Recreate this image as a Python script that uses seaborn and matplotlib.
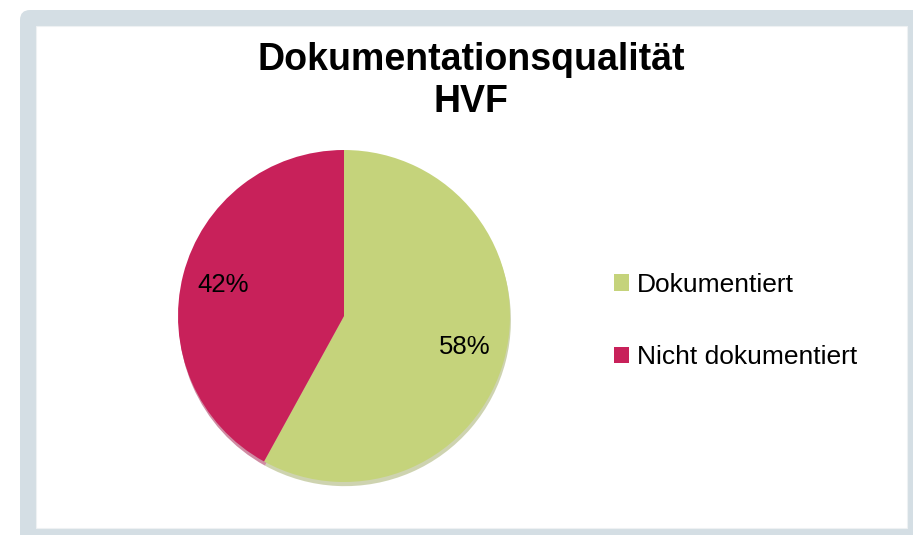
import seaborn as sns
import matplotlib.pyplot as plt
from matplotlib.patches import FancyBboxPatch, Rectangle

# Chart data
categories = ['Dokumentiert', 'Nicht dokumentiert']
shares = [58, 42]
colors = ['#c5d37b', '#c8215a']
title = 'Dokumentationsqualität\nHVF'

sns.set_theme(style='white')
plt.rcParams['font.family'] = ['Liberation Sans', 'DejaVu Sans']
plt.rcParams['text.color'] = 'black'

W, H = 913, 535
fig = plt.figure(figsize=(W / 100, H / 100), dpi=100)
fig.patch.set_facecolor('white')

# Gray frame with rounded top-left corner, white plot area inside
frame = FancyBboxPatch((20 / W, -20 / H), (W + 20) / W, (H + 10) / H,
                       boxstyle='round,pad=0,rounding_size=0.011',
                       transform=fig.transFigure, facecolor='#d4dee4',
                       edgecolor='none', mutation_aspect=W / H, zorder=0)
fig.patches.append(frame)
inner = Rectangle((36 / W, (H - 528) / H), (907 - 36) / W, (528 - 26) / H,
                  transform=fig.transFigure, facecolor='white',
                  edgecolor='#eef1f3', linewidth=0.8, zorder=1)
fig.patches.append(inner)

# Pie axes: center (344, 316) px, radius 166 px
cx, cy, r = 344, 316, 166
ax = fig.add_axes([(cx - r) / W, (H - cy - r) / H, 2 * r / W, 2 * r / H])
ax.set_zorder(2)
wedges, texts, autotexts = ax.pie(
    shares, colors=colors, startangle=90, counterclock=False,
    autopct='%1.0f%%', pctdistance=0.75,
    shadow={'ox': 0.004, 'oy': -0.018, 'shade': 0.2},
    textprops={'fontsize': 18.5, 'color': 'black'},
    wedgeprops={'linewidth': 0})
ax.set_xlim(-1, 1)
ax.set_ylim(-1, 1)
ax.set_aspect('equal')
ax.axis('off')

fig.text(471 / W, 1 - 81 / H, title, ha='center', va='center',
         fontsize=27, fontweight='bold', linespacing=1.2, color='black')

leg = fig.legend(wedges, categories, loc='center left',
                 bbox_to_anchor=(603 / W, 1 - 321 / H), frameon=False,
                 fontsize=19, handlelength=0.6, handleheight=0.6,
                 handletextpad=0.3, labelspacing=1.85, borderaxespad=0)
for t in leg.get_texts():
    t.set_color('black')

fig.savefig('out.png', dpi=100)
